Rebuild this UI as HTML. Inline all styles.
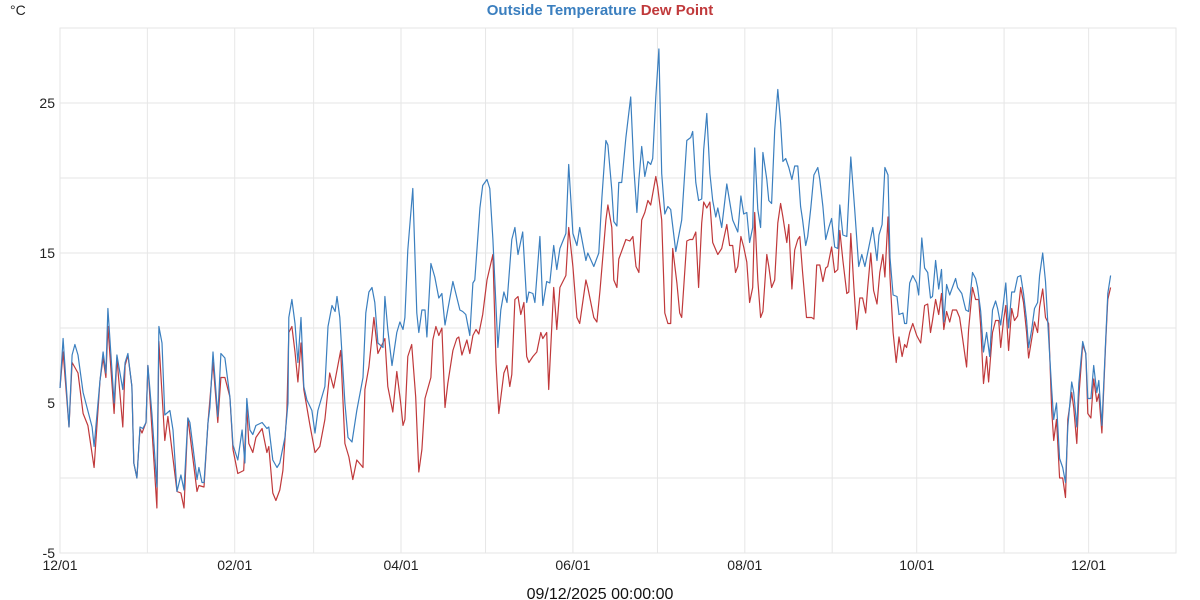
<!DOCTYPE html>
<html><head><meta charset="utf-8">
<style>
html,body{margin:0;padding:0;background:#fff;}
svg{display:block;font-family:"Liberation Sans",sans-serif;}
</style></head>
<body>
<svg id="chart" width="1200" height="600" viewBox="0 0 1200 600">
  <text x="10" y="15" font-size="14" fill="#222">°C</text>
  <text x="600" y="15" font-size="15" font-weight="bold" text-anchor="middle"><tspan fill="#3b7fbf">Outside Temperature</tspan> <tspan fill="#c0393b">Dew Point</tspan></text>
  <g id="grid"></g>
  <g id="yticks"></g>
  <g id="xticks"></g>
  <g id="series"></g>
  <text x="600" y="599" font-size="16" text-anchor="middle" fill="#111">09/12/2025 00:00:00</text>
</svg>
<script>
const yTicks=[-5,0,5,10,15,20,25,30];
const yLabels=["-5","","5","","15","","25",""];
const monthDays=[0,31,62,90,121,151,182,212,243,274,304,335,365,396];
const monthLabels=["12/01","","02/01","","04/01","","06/01","","08/01","","10/01","","12/01",""];
const tempDays=[0,1.1,3.2,4.3,5.3,6.4,8.2,11.4,12.1,14.2,15.3,16.3,17.0,19.2,20.2,22.3,23.1,24.1,25.5,26.2,27.3,28.4,29.4,30.5,31.2,32.6,34.4,35.1,36.2,37.2,39.0,40.1,41.5,42.9,44.0,45.4,46.1,48.6,49.3,50.4,51.1,52.5,53.2,54.3,56.0,57.1,58.5,60.3,61.4,63.1,64.6,65.6,66.3,67.4,68.4,69.5,71.7,73.4,74.1,75.5,77.0,78.0,79.8,80.9,81.2,82.3,83.4,84.4,85.5,86.5,87.6,89.4,90.5,91.5,94.0,95.1,96.5,97.6,98.3,99.3,101.1,102.2,103.6,105.3,107.5,108.5,109.6,110.7,111.7,112.8,114.6,115.3,116.3,117.8,119.5,120.6,121.7,122.4,123.4,125.2,126.6,127.3,128.4,129.5,130.2,131.6,133.0,134.4,135.5,136.6,139.4,141.9,142.9,144.0,145.4,146.5,147.2,149.0,150.0,151.5,152.5,153.6,155.4,156.4,157.5,158.6,160.3,161.4,162.5,164.2,165.6,166.4,167.8,168.5,170.3,171.3,172.7,173.8,175.2,176.3,177.4,179.5,180.5,182.0,183.4,184.4,186.6,187.3,189.4,191.2,192.3,193.7,194.4,195.8,196.5,197.6,198.3,199.3,200.8,202.5,203.6,204.7,205.4,206.4,207.5,208.6,209.6,210.3,211.4,212.5,213.5,214.6,215.7,216.7,218.5,220.6,222.4,223.8,224.5,225.6,226.6,227.7,228.4,229.5,230.6,231.6,232.7,233.4,234.8,236.6,238.7,240.5,241.6,242.6,243.7,244.7,245.8,246.5,247.6,248.6,249.4,250.8,251.5,252.5,253.6,254.7,255.7,256.5,257.5,258.6,259.7,260.7,261.8,262.8,263.5,264.6,265.3,266.4,267.5,268.9,269.6,270.7,271.7,272.8,273.8,274.9,276.0,276.7,277.8,279.2,280.6,282.0,283.4,284.5,285.6,288.4,289.9,290.6,291.7,292.7,293.8,294.5,295.6,297.0,297.7,299.1,299.7,300.4,301.5,302.6,304.0,304.7,305.8,306.8,307.9,308.9,309.6,310.7,311.8,312.8,313.6,314.6,315.7,317.8,318.5,320.0,321.4,322.4,323.8,324.9,325.6,326.7,327.7,328.8,329.9,330.9,332.0,332.7,333.8,334.8,335.6,336.6,337.7,338.7,339.8,340.9,341.9,343.0,343.7,344.8,345.8,346.9,347.6,348.7,349.7,350.8,351.9,352.6,353.6,354.7,355.8,356.8,357.6,359.0,359.7,360.8,361.5,362.9,364.0,364.7,365.8,366.8,367.9,368.6,369.7,371.1,371.8,372.8];
const tempValues=[6.0,9.3,3.4,8.2,8.9,8.2,5.7,3.4,2.1,6.5,8.4,7.0,11.3,5.0,8.2,5.9,7.7,8.3,6.1,1.0,0.0,3.4,3.3,3.7,7.5,4.3,-0.6,10.1,9.0,4.2,4.5,3.2,-0.9,0.2,-0.8,4.0,3.7,-0.1,0.7,-0.3,-0.3,3.7,4.7,8.4,4.1,8.3,8.0,5.4,2.2,1.2,3.2,1.0,5.3,3.2,2.9,3.5,3.7,3.3,3.4,1.2,0.7,1.0,2.7,5.0,10.7,11.9,10.3,7.7,10.7,6.1,5.2,4.5,3.0,4.5,6.1,10.1,11.5,11.1,12.1,10.7,5.0,2.7,2.4,4.5,6.7,11.0,12.4,12.7,11.7,9.0,8.7,12.1,9.9,7.5,9.7,10.4,9.9,10.7,15.2,19.3,11.0,9.7,11.2,11.2,9.4,14.3,13.4,12.0,12.3,10.2,13.1,11.2,11.1,10.9,9.5,13.0,13.2,18.0,19.5,19.9,19.3,15.9,8.7,11.2,12.4,11.7,15.9,16.7,14.9,16.4,11.7,12.4,12.3,11.7,16.1,11.5,13.1,13.0,15.5,13.9,15.3,16.3,20.9,16.3,15.5,16.7,14.5,15.0,14.1,15.0,18.7,22.5,22.2,19.2,17.1,16.8,19.7,19.7,22.7,25.4,20.7,17.7,19.9,22.1,20.1,21.1,20.9,21.3,25.4,28.6,20.3,17.6,18.1,17.9,15.1,17.2,22.5,22.7,23.1,19.7,18.5,18.6,21.9,24.3,20.3,18.5,17.4,18.0,16.7,19.6,17.2,16.4,18.8,17.6,17.7,15.7,16.7,22.0,17.9,16.7,21.7,19.9,18.5,18.3,23.2,25.9,23.7,21.1,21.3,20.7,19.9,20.8,20.8,18.1,17.2,15.5,16.1,18.0,20.2,20.7,19.9,18.1,15.9,16.7,17.3,15.4,15.3,18.2,16.2,16.1,21.4,17.9,14.1,14.9,14.1,16.7,14.5,16.2,16.9,20.7,20.2,14.7,12.2,12.1,10.9,11.0,10.3,10.3,13.0,13.5,13.0,12.2,16.0,14.0,13.7,12.0,12.1,14.5,12.6,13.9,10.4,12.9,12.2,13.3,12.7,12.3,11.2,11.1,13.7,13.3,12.7,11.1,8.4,9.7,8.1,11.2,11.8,11.3,10.2,11.7,13.0,10.0,12.4,12.4,13.4,13.5,12.3,10.5,8.7,9.9,11.3,11.7,13.5,15.0,13.1,9.4,5.9,3.9,5.0,1.3,0.7,-0.3,3.4,6.4,5.7,3.4,6.3,9.1,8.3,5.3,5.3,7.5,5.7,6.5,3.5,9.4,12.3,13.5];
const dewDays=[0,1.1,3.2,4.3,6.4,8.2,9.9,12.1,14.2,15.3,16.3,17.0,19.2,20.2,22.3,23.1,24.1,25.5,26.2,27.3,28.4,29.1,30.5,31.2,34.4,35.1,37.2,38.3,41.5,42.9,44.0,45.4,48.6,49.3,51.1,52.5,54.3,56.0,57.1,58.5,60.3,61.4,63.1,65.2,66.3,67.0,68.4,69.5,71.7,73.4,74.1,75.5,76.6,78.0,79.1,80.5,81.2,82.3,83.4,84.4,85.5,86.5,88.7,90.5,92.2,94.0,95.7,97.1,99.6,101.1,102.5,103.9,105.3,107.5,108.2,109.6,111.4,112.8,115.3,116.3,118.1,119.5,120.9,121.7,122.4,123.4,124.8,126.2,127.3,128.4,129.5,131.6,132.3,133.4,134.4,135.5,136.6,137.6,139.4,140.8,141.5,142.6,144.4,145.4,146.5,147.6,148.6,150.0,151.5,153.6,154.7,155.7,157.5,158.6,159.6,160.3,161.4,162.5,163.5,164.6,165.6,166.4,167.8,169.2,170.6,171.3,172.7,173.4,175.2,176.3,177.4,179.5,180.5,182.0,183.4,184.4,186.6,187.3,189.4,190.5,191.6,193.7,194.4,195.8,196.5,197.6,198.3,200.8,202.2,203.3,204.4,205.4,206.4,207.5,208.6,209.6,211.4,212.1,213.5,214.6,215.7,216.7,217.4,218.9,219.9,220.6,222.4,223.5,224.5,225.6,226.6,227.7,228.4,229.5,230.6,231.6,233.4,234.8,236.6,237.6,238.7,239.7,240.5,241.6,242.6,243.7,244.7,245.8,246.5,247.6,248.6,249.4,250.8,251.5,252.5,253.6,254.7,255.7,256.5,257.9,258.6,259.7,260.7,261.8,262.5,263.5,264.9,266.7,267.5,268.5,269.6,270.7,271.7,272.4,273.8,274.9,276.0,276.7,277.8,279.2,279.9,280.6,281.7,282.7,283.8,284.8,285.9,286.6,287.7,288.7,289.9,290.9,292.0,292.7,293.8,294.5,295.6,296.7,297.7,298.8,299.7,300.4,301.5,302.6,304.0,305.4,306.8,307.9,308.9,309.6,310.7,311.8,312.8,313.6,314.6,315.7,316.7,318.1,319.2,320.2,321.7,322.4,323.8,324.9,326.0,326.7,327.7,328.8,329.5,330.9,332.0,333.1,333.8,334.8,335.6,336.6,337.7,338.7,339.8,340.9,341.9,343.0,343.7,345.8,346.9,347.6,348.7,349.7,350.8,351.9,352.6,353.6,354.7,355.8,356.8,357.6,359.0,359.7,360.8,361.5,362.9,364.0,364.7,365.8,366.8,367.9,368.6,369.7,371.1,371.8,372.8];
const dewValues=[6.0,8.4,3.4,7.7,7.0,4.3,3.5,0.7,6.5,8.0,6.7,10.1,4.3,8.0,3.4,7.5,8.2,6.1,1.0,0.0,3.3,3.0,3.7,7.5,-2.0,9.1,2.5,4.1,-0.9,-1.0,-2.0,4.0,-0.9,-0.5,-0.6,3.7,7.7,3.7,6.7,6.7,5.4,1.9,0.3,0.5,4.7,2.3,1.7,2.7,3.3,1.7,2.1,-1.0,-1.5,-0.8,0.5,4.5,9.7,10.1,8.4,6.4,9.0,5.9,3.5,1.7,2.1,3.9,7.0,6.0,8.5,2.3,1.4,-0.1,1.2,0.7,5.9,7.4,10.7,8.3,9.3,6.1,4.4,7.1,5.0,3.5,3.9,8.1,8.9,5.4,0.4,1.9,5.3,6.7,9.2,10.1,9.5,10.0,4.7,6.3,8.5,9.3,9.4,8.2,9.2,8.3,9.5,9.9,9.6,10.9,13.2,14.9,7.7,4.3,7.0,7.5,6.1,6.9,11.9,12.1,10.9,11.7,8.1,7.7,8.1,8.4,9.7,9.3,9.7,5.9,12.7,9.9,12.7,13.5,16.7,14.1,10.7,10.3,13.2,12.7,10.7,10.4,12.5,17.2,18.2,16.7,13.2,12.7,14.6,15.9,15.8,16.1,14.1,13.7,17.2,17.7,18.5,18.2,20.1,19.4,17.2,11.0,10.3,10.3,15.3,13.0,11.0,10.7,15.8,15.9,15.9,16.4,12.7,17.0,18.4,18.0,18.4,15.7,14.9,15.3,16.9,15.5,15.5,13.7,14.1,16.1,15.4,14.4,11.7,12.7,17.7,13.2,10.7,11.1,14.9,14.1,12.7,13.2,17.0,18.3,17.4,15.7,16.9,12.6,15.2,15.9,16.1,13.7,10.7,10.7,10.6,14.2,14.2,13.1,14.0,14.1,15.4,13.7,13.9,16.5,14.5,12.3,12.4,16.3,12.7,9.9,12.0,12.0,11.0,12.7,15.0,12.5,11.6,13.7,14.9,13.4,17.4,13.4,9.7,7.7,9.4,8.1,8.9,8.7,9.7,10.3,9.5,9.0,11.5,11.6,9.7,10.5,11.9,10.9,12.3,9.9,11.1,10.4,11.2,11.2,10.7,9.4,7.4,9.9,12.7,11.9,11.9,10.1,6.3,8.1,6.4,9.7,10.5,10.5,8.7,10.5,11.5,8.5,11.3,10.5,10.8,12.7,11.7,9.7,8.0,10.4,9.7,11.4,12.6,10.7,10.3,4.5,2.5,3.9,0.0,0.0,-1.3,3.9,5.7,4.7,2.3,5.4,8.9,8.3,4.3,4.0,6.6,5.1,5.6,3.0,9.2,11.9,12.7];

const NS="http://www.w3.org/2000/svg";
const L=60,R=1176,T=28,B=553,DMAX=396,VMIN=-5,VMAX=30;
function xs(d){return L+(d/DMAX)*(R-L);}
function ys(v){return B-(v-VMIN)/(VMAX-VMIN)*(B-T);}
function mk(tag,attrs,parent){const e=document.createElementNS(NS,tag);for(const k in attrs)e.setAttribute(k,attrs[k]);parent.appendChild(e);return e;}
const grid=document.getElementById('grid'),yg=document.getElementById('yticks'),xg=document.getElementById('xticks'),sg=document.getElementById('series');
const frame=mk('rect',{x:L,y:T,width:R-L,height:B-T,fill:'none',stroke:'#e6e6e6','stroke-width':1},grid);


yTicks.forEach((v,i)=>{
  const ln=mk('line',{x1:L,x2:R,y1:ys(v),y2:ys(v),stroke:'#e6e6e6','stroke-width':1},grid);
  
  
  if(yLabels[i]){
    const t=mk('text',{x:55,y:ys(v)+5,'font-size':14,'text-anchor':'end',fill:'#222'},yg);
    
    
    t.textContent=yLabels[i];
  }
});
monthDays.forEach((d,i)=>{
  const ln=mk('line',{x1:xs(d),x2:xs(d),y1:T,y2:B,stroke:'#e6e6e6','stroke-width':1},grid);
  
  
  if(monthLabels[i]){
    const t=mk('text',{x:xs(d),y:570,'font-size':14,'text-anchor':'middle',fill:'#222'},xg);
    
    
    t.textContent=monthLabels[i];
  }
});
function path(days,vals){return days.map((d,i)=>(i?'L':'M')+xs(d).toFixed(1)+' '+ys(vals[i]).toFixed(1)).join(' ');}
const dew=mk('path',{d:path(dewDays,dewValues),fill:'none',stroke:'#c0393b','stroke-width':1.2,'stroke-linejoin':'round'},sg);


const temp=mk('path',{d:path(tempDays,tempValues),fill:'none',stroke:'#3b7fbf','stroke-width':1.2,'stroke-linejoin':'round'},sg);


</script>
</body></html>
